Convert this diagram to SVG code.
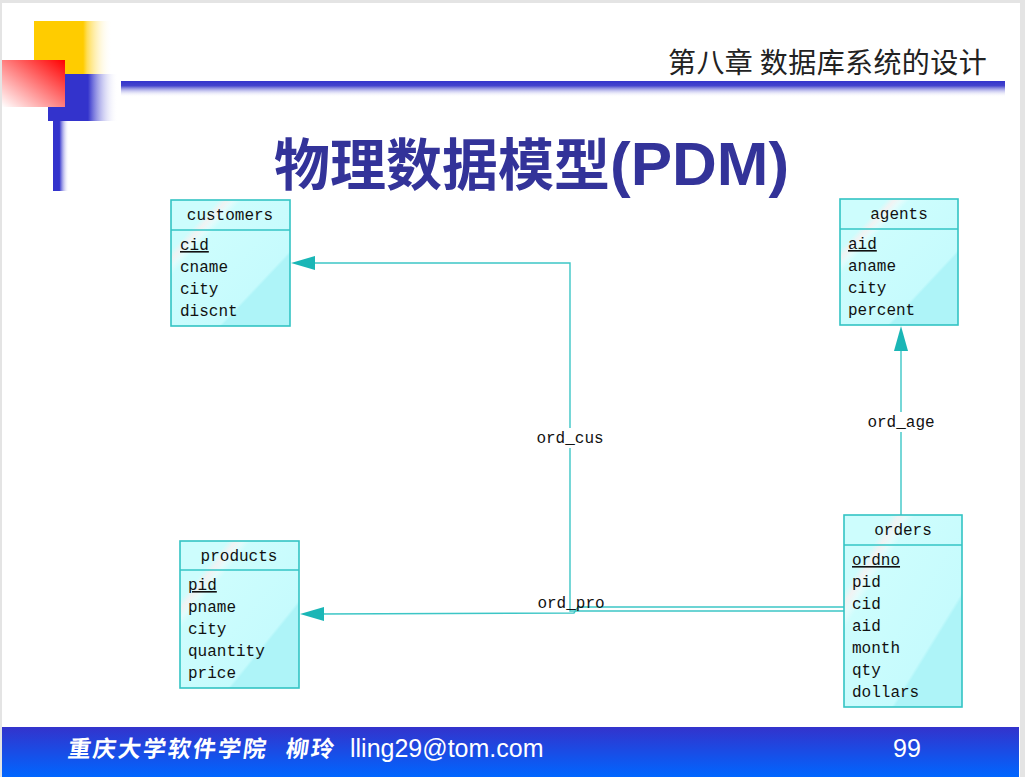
<svg xmlns="http://www.w3.org/2000/svg" width="1025" height="777" viewBox="0 0 1025 777">
<defs>
<style>
.box{stroke:#33c4c4;stroke-width:1.6;fill:url(#boxg)}
.sep{stroke:#33c4c4;stroke-width:1.6}
.et{font-family:"Liberation Mono","DejaVu Sans Mono",monospace;font-size:16px;fill:#111}
.hd{text-anchor:middle}
.key{text-decoration:underline}
.conn{fill:none;stroke:#3cc6c6;stroke-width:1.4}
.arr{fill:#1ab6b6}
.lbl{font-family:"Liberation Mono","DejaVu Sans Mono",monospace;font-size:16px;fill:#111;text-anchor:middle}
</style>
<linearGradient id="boxg" x1="0" y1="0" x2="1" y2="1">
<stop offset="0" stop-color="#cdfdfd"/>
<stop offset="0.2" stop-color="#cdfdfd"/>
<stop offset="0.235" stop-color="#f1f3f3"/>
<stop offset="0.265" stop-color="#e4fcfc"/>
<stop offset="0.3" stop-color="#cdfdfd"/>
<stop offset="0.7" stop-color="#c6fbfd"/>
<stop offset="0.715" stop-color="#aef4f8"/>
<stop offset="1" stop-color="#aef4f8"/>
</linearGradient>
<linearGradient id="yel" x1="0" y1="0" x2="1" y2="0">
<stop offset="0" stop-color="#ffcc00"/>
<stop offset="0.63" stop-color="#ffcc00"/>
<stop offset="0.68" stop-color="#ffdd55"/>
<stop offset="1" stop-color="#ffffff" stop-opacity="0"/>
</linearGradient>
<linearGradient id="blu" x1="0" y1="0" x2="1" y2="0">
<stop offset="0" stop-color="#3333cc"/>
<stop offset="0.57" stop-color="#3333cc"/>
<stop offset="1" stop-color="#ffffff" stop-opacity="0"/>
</linearGradient>
<linearGradient id="red" x1="1" y1="0" x2="0" y2="1">
<stop offset="0" stop-color="#ff0000"/>
<stop offset="1" stop-color="#ffffff"/>
</linearGradient>
<linearGradient id="vbar" x1="0" y1="0" x2="1" y2="0">
<stop offset="0" stop-color="#3333cc"/>
<stop offset="0.4" stop-color="#3333cc"/>
<stop offset="1" stop-color="#ffffff" stop-opacity="0"/>
</linearGradient>
<linearGradient id="hbar" x1="0" y1="0" x2="0" y2="1">
<stop offset="0" stop-color="#3333cc"/>
<stop offset="0.3" stop-color="#4444cc"/>
<stop offset="1" stop-color="#ffffff" stop-opacity="0"/>
</linearGradient>
<linearGradient id="foot" x1="0" y1="0" x2="0" y2="1">
<stop offset="0" stop-color="#3333cc"/>
<stop offset="1" stop-color="#0066ff"/>
</linearGradient>
</defs>

<rect x="0" y="0" width="1025" height="777" fill="#e4e4e4"/>
<rect x="2" y="3" width="1018" height="774" fill="#ffffff"/>

<g id="decoration">
<rect x="34" y="21" width="78" height="53" fill="url(#yel)"/>
<rect x="48" y="74" width="70" height="47" fill="url(#blu)"/>
<rect x="2" y="60" width="63" height="47" fill="url(#red)"/>
<rect x="53" y="121" width="16" height="70" fill="url(#vbar)"/>
<rect x="121" y="81" width="884" height="16" fill="url(#hbar)"/>
</g>

<text x="668" y="73" font-family="'Noto Sans CJK SC',sans-serif" font-size="28" letter-spacing="0.4" fill="#222">第八章 数据库系统的设计</text>

<text x="274" y="185" font-size="56" font-weight="bold" fill="#333399" font-family="'Noto Sans CJK SC',sans-serif">物理数据模型<tspan font-family="'Liberation Sans',Arial,sans-serif" font-size="62">(PDM)</tspan></text>

<g id="connectors">
<polyline class="conn" points="844,611 570,611 570,263 310,263"/>
<polygon class="arr" points="291,263 315,256 315,270"/>
<polyline class="conn" points="844,607 578,607 574,613 318,614"/>
<polygon class="arr" points="300,614 324,607 324,621"/>
<line class="conn" x1="901" y1="515" x2="901" y2="345"/>
<polygon class="arr" points="901,326 894,351 908,351"/>
<rect x="532" y="428" width="76" height="20" fill="#ffffff"/>
<text class="lbl" x="570" y="443">ord_cus</text>
<rect x="863" y="412" width="76" height="20" fill="#ffffff"/>
<text class="lbl" x="901" y="427">ord_age</text>
<text class="lbl" x="571" y="608">ord_pro</text>
</g>

<g id="customers">
<rect class="box" x="171" y="200" width="119" height="126"/>
<line class="sep" x1="171" y1="230" x2="290" y2="230"/>
<text class="et hd" x="230" y="220">customers</text>
<text class="et key" x="180" y="250">cid</text>
<text class="et" x="180" y="272">cname</text>
<text class="et" x="180" y="294">city</text>
<text class="et" x="180" y="316">discnt</text>
</g>

<g id="agents">
<rect class="box" x="840" y="199" width="118" height="126"/>
<line class="sep" x1="840" y1="229" x2="958" y2="229"/>
<text class="et hd" x="899" y="219">agents</text>
<text class="et key" x="848" y="249">aid</text>
<text class="et" x="848" y="271">aname</text>
<text class="et" x="848" y="293">city</text>
<text class="et" x="848" y="315">percent</text>
</g>

<g id="products">
<rect class="box" x="180" y="541" width="119" height="147"/>
<line class="sep" x1="180" y1="570" x2="299" y2="570"/>
<text class="et hd" x="239" y="561">products</text>
<text class="et key" x="188" y="590">pid</text>
<text class="et" x="188" y="612">pname</text>
<text class="et" x="188" y="634">city</text>
<text class="et" x="188" y="656">quantity</text>
<text class="et" x="188" y="678">price</text>
</g>

<g id="orders">
<rect class="box" x="844" y="515" width="118" height="192"/>
<line class="sep" x1="844" y1="545" x2="962" y2="545"/>
<text class="et hd" x="903" y="535">orders</text>
<text class="et key" x="852" y="565">ordno</text>
<text class="et" x="852" y="587">pid</text>
<text class="et" x="852" y="609">cid</text>
<text class="et" x="852" y="631">aid</text>
<text class="et" x="852" y="653">month</text>
<text class="et" x="852" y="675">qty</text>
<text class="et" x="852" y="697">dollars</text>
</g>

<g id="footer">
<rect x="2" y="727" width="1017" height="50" fill="url(#foot)"/>
<g transform="translate(0,757) skewX(-8) translate(0,-757)">
<text y="757" font-family="'Noto Sans CJK SC',sans-serif" font-size="23" font-weight="bold" fill="#ffffff" letter-spacing="2"><tspan x="67">重庆大学软件学院</tspan><tspan x="285">柳玲</tspan></text>
</g>
<text x="350" y="757" font-family="'Liberation Sans',Arial,sans-serif" font-size="25" fill="#ffffff">lling29@tom.com</text>
<text x="893" y="757" font-family="'Liberation Sans',Arial,sans-serif" font-size="25" fill="#ffffff">99</text>
</g>
</svg>
